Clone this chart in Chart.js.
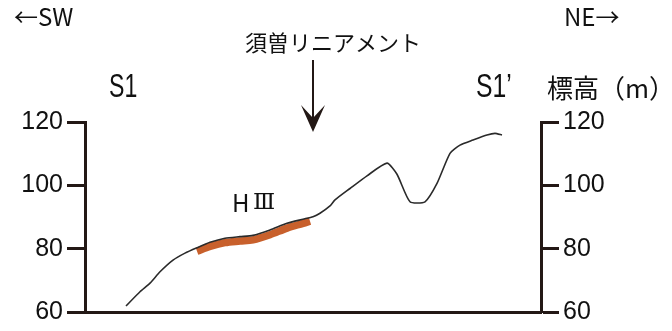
<!DOCTYPE html>
<html>
<head>
<meta charset="utf-8">
<script src="https://cdn.jsdelivr.net/npm/chart.js@4"></script>
<style>
  body { margin: 0; background: #fff; }
  #wrap { width: 672px; height: 331px; }
</style>
</head>
<body>
<div id="wrap"><canvas id="profile"></canvas></div>
<script>
// distance along section S1 - S1' (arbitrary units, SW -> NE)
const distance = [41, 55, 65, 75, 88, 100, 112, 125, 140, 155, 168, 185, 202, 218, 228, 235, 245, 250, 265, 282, 302, 312, 325, 340, 352, 365, 375, 388, 402, 410, 417];
const elevation = [61.9, 66.4, 69.1, 72.7, 76.4, 78.6, 80.3, 82.0, 83.3, 83.8, 84.2, 85.9, 88.0, 89.3, 90.1, 91.2, 93.5, 95.4, 99.0, 103.0, 107.0, 103.5, 94.8, 94.8, 100.6, 110.1, 112.7, 114.3, 115.9, 116.4, 115.9];

// H III terrace surface
const terraceDistance = [112, 125, 140, 155, 168, 185, 202, 218, 225];
const terraceElevation = [79.2, 80.7, 81.9, 82.4, 82.8, 84.4, 86.5, 88.0, 88.7];

const elevationTicks = [60, 80, 100, 120];
const lineamentAt = 228;

const axisColor = '#231815';
const latin = '"Liberation Sans", sans-serif';
const jp = '"Noto Sans CJK JP", sans-serif';

const toXY = (xs, ys) => xs.map((v, i) => ({ x: v, y: ys[i] }));

// narrow text like the condensed gothic of the original
function narrowText(ctx, text, x, y, sx) {
  ctx.save();
  ctx.translate(x, y);
  ctx.scale(sx, 1);
  ctx.fillText(text, 0, 0);
  ctx.restore();
}

const labelsPlugin = {
  id: 'labels',
  afterDraw(chart) {
    const { ctx, scales: { x } } = chart;
    ctx.save();
    ctx.fillStyle = '#111';
    ctx.textBaseline = 'middle';
    ctx.textAlign = 'left';

    ctx.font = '24px ' + jp;
    ctx.fillText('←SW', 14, 17);
    ctx.fillText('NE→', 564, 17);

    ctx.font = '33px ' + latin;
    narrowText(ctx, 'S1', 109, 88, 0.7);
    narrowText(ctx, 'S1’', 476, 88, 0.75);

    ctx.font = '26px ' + jp;
    ctx.fillText('標高（m）', 547, 88);

    ctx.font = '22px ' + jp;
    ctx.textAlign = 'center';
    ctx.fillText('須曽リニアメント', 333, 43);

    // terrace label H III
    ctx.textAlign = 'left';
    const hx = x.getPixelForValue(147);
    ctx.font = '24px ' + jp;
    ctx.fillText('H', hx, 203);
    ctx.font = '23px "DejaVu Serif", serif';
    ctx.fillText('Ⅲ', hx + 21, 203);

    // arrow to the lineament
    const ax = x.getPixelForValue(lineamentAt);
    ctx.strokeStyle = axisColor;
    ctx.fillStyle = axisColor;
    ctx.lineWidth = 2;
    ctx.beginPath();
    ctx.moveTo(ax, 60);
    ctx.lineTo(ax, 128);
    ctx.stroke();
    ctx.beginPath();
    ctx.moveTo(ax, 132);
    ctx.lineTo(ax - 12, 105);
    ctx.lineTo(ax, 118);
    ctx.lineTo(ax + 12, 105);
    ctx.closePath();
    ctx.fill();
    ctx.restore();
  }
};

const yAxis = (position, width) => ({
  type: 'linear',
  position: position,
  min: 60,
  max: 120,
  afterFit(axis) { axis.width = width; },
  afterBuildTicks(axis) {
    const t = [];
    for (let v = 60; v <= 120; v += 10) t.push({ value: v });
    axis.ticks = t;
  },
  ticks: {
    color: '#111',
    padding: 4,
    font: { family: latin, size: 25 },
    callback: v => elevationTicks.includes(v) ? String(v) : ''
  },
  grid: {
    drawOnChartArea: false,
    drawTicks: true,
    tickLength: 18,
    tickWidth: 3,
    tickColor: axisColor
  },
  border: { display: true, width: 3, color: axisColor }
});

new Chart(document.getElementById('profile'), {
  type: 'line',
  data: {
    datasets: [
      {
        label: '地形断面',
        data: toXY(distance, elevation),
        borderColor: '#2a2a2a',
        borderWidth: 1.6,
        pointRadius: 0,
        tension: 0.2,
        order: 1
      },
      {
        label: 'HⅢ',
        data: toXY(terraceDistance, terraceElevation),
        borderColor: 'rgb(200, 96, 44)',
        borderWidth: 7.5,
        pointRadius: 0,
        tension: 0.3,
        order: 2
      }
    ]
  },
  options: {
    responsive: true,
    maintainAspectRatio: false,
    animation: false,
    layout: { padding: { top: 122, bottom: 19, left: 0, right: 0 } },
    plugins: { legend: { display: false }, tooltip: { enabled: false } },
    scales: {
      x: {
        type: 'linear',
        min: 0,
        max: 456,
        afterFit(axis) { axis.height = 0; },
        ticks: { display: false },
        grid: { display: false },
        border: { display: true, width: 3, color: axisColor }
      },
      y: yAxis('left', 85),
      y2: yAxis('right', 131)
    }
  },
  plugins: [labelsPlugin]
});
</script>
</body>
</html>
